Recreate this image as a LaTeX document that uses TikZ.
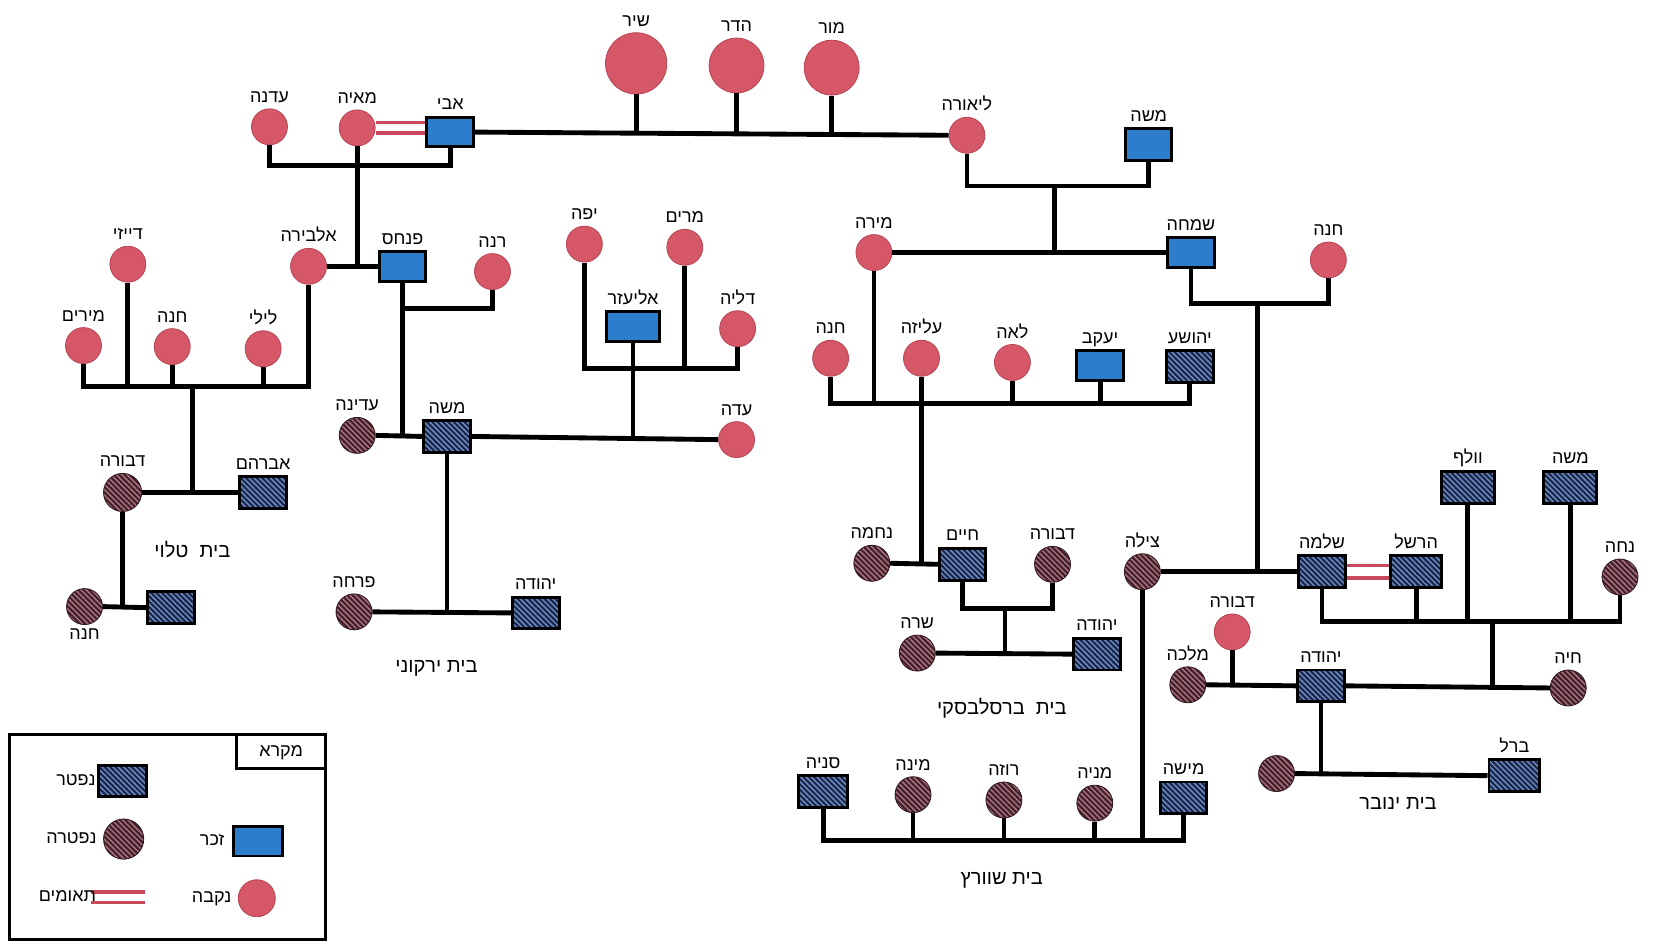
\documentclass[tikz,border=0pt]{standalone}
\usepackage{fontspec}
\TeXXeTstate=1
\newfontfamily\hebfont[Script=Hebrew]{Liberation Sans}
\usetikzlibrary{patterns.meta,calc}
\newcommand{\hb}[1]{{\hebfont\beginR #1\endR}}
\definecolor{pinkf}{RGB}{214,88,104}
\definecolor{pinkedge}{RGB}{185,70,85}
\definecolor{bluef}{RGB}{45,125,205}
\definecolor{navyf}{RGB}{28,38,70}
\definecolor{stripeb}{RGB}{110,145,205}
\definecolor{maroonf}{RGB}{62,34,42}
\definecolor{maroonedge}{RGB}{50,25,30}
\definecolor{stripep}{RGB}{180,115,132}
\definecolor{twinred}{RGB}{200,72,92}
\tikzset{
 conn/.style={line width=4.6pt, black, line join=miter},
 twin/.style={line width=3.4pt, twinred},
 fem/.style={circle, draw=pinkedge, line width=0.8pt, fill=pinkf, minimum size=34pt, inner sep=0pt},
 bigfem/.style={fem, minimum size=#1},
 male/.style={rectangle, draw=black, line width=2.8pt, fill=bluef, minimum width=44pt, minimum height=28pt, inner sep=0pt},
 mdead/.style={rectangle, draw=black, line width=2.8pt, preaction={fill=navyf}, pattern={Lines[angle=-45,distance=3.6pt,line width=1.3pt]}, pattern color=stripeb, minimum width=44pt, minimum height=30pt, inner sep=0pt},
 fdead/.style={circle, draw=maroonedge, line width=0.8pt, preaction={fill=maroonf}, pattern={Lines[angle=-45,distance=3.6pt,line width=1.3pt]}, pattern color=stripep, minimum size=34pt, inner sep=0pt},
 lab/.style={font=\fontsize{17}{19}\selectfont, text height=12pt, text depth=3.5pt, inner sep=1pt},
 nm/.style={label={[lab, label distance=1pt]above:\hb{#1}}},
 house/.style={font=\fontsize{19}{21}\selectfont, inner sep=1pt},
}
\begin{document}
\begin{tikzpicture}[x=1pt,y=-1pt]
\fill[white] (0,0) rectangle (1568,894);
\useasboundingbox (0,0) rectangle (1568,894);

% ---- top generation
\node[bigfem=58pt, nm=שיר] (shir) at (602,60) {};
\node[bigfem=52pt, nm=הדר] (hadar) at (697,62) {};
\node[bigfem=52pt, nm=מור] (mor) at (787,64) {};
\node[male, nm=אבי] (avi) at (426,125) {};
\node[fem, nm=מאיה] (maya) at (338,121) {};
\node[fem, nm=עדנה] (edna) at (255,120) {};
\node[fem, nm=ליאורה] (liora) at (915,128) {};
\node[male, nm=משה, minimum height=30pt] (moshea) at (1087,137) {};
\node[fem, nm=מירה] (mira) at (827,239) {};
\node[male, nm=שמחה] (simcha) at (1127,239) {};
\node[fem, nm=חנה] (hanar) at (1257,246) {};

% ---- left
\node[fem, nm=אלבירה] (elvira) at (292,252) {};
\node[male, nm=פנחס] (pinchas) at (381,252) {};
\node[fem, nm=רנה] (rena) at (466,257) {};
\node[fem, nm=דייזי] (daisy) at (121,250) {};
\node[fem, nm=מירים] (mirim) at (79,327) {};
\node[fem, nm=חנה] (hanal) at (163,328) {};
\node[fem, nm=לילי] (lily) at (249,330) {};
\node[fdead, nm=דבורה, minimum size=36pt] (dvoraa) at (116,466) {};
\node[mdead, nm=אברהם] (avraham) at (249,466) {};
\node[fdead, label={[lab, label distance=1pt]below:\hb{חנה}}] (hanab) at (80,574) {};
\node[mdead] (unka) at (162,575) {};

% ---- middle
\node[fdead, nm=עדינה] (adina) at (338,412) {};
\node[mdead, nm=משה] (mosheb) at (423,413) {};
\node[fem, nm=עדה] (ada) at (697,416) {};
\node[male, nm=אליעזר, minimum width=50pt] (eliezer) at (599,309) {};
\node[fem, nm=יפה] (yafa) at (553,231) {};
\node[fem, nm=מרים] (miriam) at (648,234) {};
\node[fem, nm=דליה] (dalia) at (698,311) {};
\node[fdead, nm=פרחה] (pircha) at (335,579) {};
\node[mdead, nm=יהודה] (yehudaa) at (507,580) {};

% ---- children of Mira & Simcha
\node[fem, nm=חנה] (hanac) at (786,339) {};
\node[fem, nm=עליזה] (aliza) at (872,339) {};
\node[fem, nm=לאה] (lea) at (958,343) {};
\node[male, nm=יעקב] (yaakov) at (1041,346) {};
\node[mdead, nm=יהושע] (yehoshua) at (1126,347) {};

% ---- Breslavsky
\node[fdead, nm=נחמה] (nechama) at (825,533) {};
\node[mdead, nm=חיים] (chaim) at (911,534) {};
\node[fdead, nm=דבורה] (dvorab) at (996,534) {};
\node[fdead, nm=שרה] (sara) at (868,618) {};
\node[mdead, nm=יהודה] (yehudab) at (1038,619) {};

% ---- right
\node[fdead, nm=צילה] (tzila) at (1081,541) {};
\node[mdead, nm=שלמה] (shlomo) at (1251,541) {};
\node[mdead, nm=הרשל, minimum width=48pt] (hershel) at (1340,541) {};
\node[mdead, nm=וולף, minimum width=50pt] (wolf) at (1389,461) {};
\node[mdead, nm=משה, minimum width=50pt] (moshec) at (1486,461) {};
\node[fdead, nm=נחה] (nacha) at (1533,546) {};
\node[mdead, nm=יהודה] (yehudac) at (1250,649) {};
\node[fdead, nm=חיה] (chaya) at (1484,651) {};
\node[fdead, nm=מלכה] (malka) at (1124,648) {};
\node[fem, nm=דבורה] (dvorac) at (1166,598) {};
\node[fdead] (unkb) at (1208,732) {};
\node[mdead, nm=ברל, minimum width=48pt] (berl) at (1433,734) {};

% ---- Schwartz
\node[mdead, nm=סניה, minimum width=46pt] (sonia) at (779,749) {};
\node[fdead, nm=מינה] (mina) at (864,752) {};
\node[fdead, nm=רוזה] (roza) at (950,757) {};
\node[fdead, nm=מניה] (mania) at (1036,760) {};
\node[mdead, nm=מישה] (misha) at (1120,755) {};

% ---- house names
\node[house] (htalui) at (182,520) {\hb{בית\ \ טלוי}};
\node[house] (hyarkoni) at (413,632) {\hb{בית ירקוני}};
\node[house] (hbreslav) at (948,670) {\hb{בית\ \ ברסלבסקי}};
\node[house] (hyanover) at (1323,760) {\hb{בית ינובר}};
\node[house] (hschwartz) at (948,833) {\hb{בית שוורץ}};

% ---- connectors
\draw[conn] (avi.east) -- (liora.west);
\foreach \n in {shir,hadar,mor} \draw[conn] (\n.south) -- (\n.south |- avi.east);
\draw[twin] ($(maya.east)+(0,-5)$) -- ($(maya.east -| avi.west)+(0,-5)$);
\draw[twin] ($(maya.east)+(0,5)$) -- ($(maya.east -| avi.west)+(0,5)$);
\draw[conn] (edna.south) -- (edna.south |- 0,157) -- (avi.south |- 0,157) -- (avi.south);
\draw[conn] (maya.south) -- (maya.south |- pinchas.west);
\draw[conn] (elvira.east) -- (pinchas.west);
\draw[conn] (rena.south) -- (rena.south |- 0,292) -- (pinchas.south |- 0,292);
\draw[conn] (pinchas.south) -- (pinchas.south |- mosheb.west);

\draw[conn] (mirim.south) -- (mirim.south |- 0,366) -- (elvira.south |- 0,366) -- (elvira.south);
\foreach \n in {daisy,hanal,lily} \draw[conn] (\n.south) -- (\n.south |- 0,366);
\coordinate (jl) at (182,366);
\draw[conn] (jl) -- (jl |- avraham.west);
\draw[conn] (dvoraa.east) -- (avraham.west);
\draw[conn] (dvoraa.south) -- (dvoraa.south |- unka.west);
\draw[conn] (hanab.east) -- (unka.west);

\draw[conn] (adina.east) -- (mosheb.west);
\draw[conn] (mosheb.east) -- (ada.west);
\draw[conn] (eliezer.south) -- (eliezer.south |- ada.west);
\draw[conn] (yafa.south) -- (yafa.south |- 0,349) -- (dalia.south |- 0,349) -- (dalia.south);
\draw[conn] (miriam.south) -- (miriam.south |- 0,349);
\draw[conn] (mosheb.south) -- (mosheb.south |- yehudaa.west);
\draw[conn] (pircha.east) -- (yehudaa.west);

\draw[conn] (liora.south) -- (liora.south |- 0,176) -- (moshea.south |- 0,176) -- (moshea.south);
\coordinate (jt) at (998,176);
\draw[conn] (jt) -- (jt |- mira.east);
\draw[conn] (mira.east) -- (simcha.west);
\draw[conn] (simcha.south) -- (simcha.south |- 0,287) -- (hanar.south |- 0,287) -- (hanar.south);
\coordinate (js) at (1190,287);
\draw[conn] (js) -- (js |- shlomo.west);
\draw[conn] (mira.south) -- (mira.south |- 0,382);
\draw[conn] (hanac.south) -- (hanac.south |- 0,382) -- (yehoshua.south |- 0,382) -- (yehoshua.south);
\foreach \n in {lea,yaakov} \draw[conn] (\n.south) -- (\n.south |- 0,382);
\draw[conn] (aliza.south) -- (aliza.south |- chaim.west);
\draw[conn] (nechama.east) -- (chaim.west);
\draw[conn] (chaim.south) -- (chaim.south |- 0,576) -- (dvorab.south |- 0,576) -- (dvorab.south);
\coordinate (jb) at (951,576);
\draw[conn] (jb) -- (jb |- yehudab.west);
\draw[conn] (sara.east) -- (yehudab.west);

\draw[conn] (tzila.east) -- (shlomo.west);
\draw[twin] ($(shlomo.east)+(0,-6)$) -- ($(hershel.west)+(0,-6)$);
\draw[twin] ($(shlomo.east)+(0,6)$) -- ($(hershel.west)+(0,6)$);
\draw[conn] (shlomo.south) -- (shlomo.south |- 0,588) -- (nacha.south |- 0,588) -- (nacha.south);
\foreach \n in {hershel,wolf,moshec} \draw[conn] (\n.south) -- (\n.south |- 0,588);
\coordinate (jr) at (1412,588);
\draw[conn] (jr) -- (jr |- chaya.west);
\draw[conn] (yehudac.east) -- (chaya.west);
\draw[conn] (malka.east) -- (yehudac.west);
\draw[conn] (dvorac.south) -- (dvorac.south |- malka.east);
\draw[conn] (yehudac.south) -- (yehudac.south |- berl.west);
\draw[conn] (unkb.east) -- (berl.west);
\draw[conn] (tzila.south) -- (tzila.south |- 0,795);
\draw[conn] (sonia.south) -- (sonia.south |- 0,795) -- (misha.south |- 0,795) -- (misha.south);
\foreach \n in {mina,roza,mania} \draw[conn] (\n.south) -- (\n.south |- 0,795);

% ---- legend
\draw[line width=2.4pt] (9,695) rectangle (308,889);
\draw[line width=2.4pt] (224,695) -- (224,727) -- (308,727);
\node[lab] (lgtitle) at (266,712) {\hb{מקרא}};
\node[mdead, minimum width=46pt] (lgmd) at (116,739) {};
\node[lab, anchor=east] (lgmdt) at (lgmd.west) {\hb{נפטר}};
\node[fdead, minimum size=38pt] (lgfd) at (117,794) {};
\node[lab, anchor=east] (lgfdt) at ([xshift=-5pt]lgfd.west) {\hb{נפטרה}};
\node[male, minimum width=46pt] (lgm) at (244,796) {};
\node[lab, anchor=east] (lgmt) at ([xshift=-6pt]lgm.west) {\hb{זכר}};
\node[fem, minimum size=35pt] (lgf) at (243,850) {};
\node[lab, anchor=east] (lgft) at ([xshift=-5pt]lgf.west) {\hb{נקבה}};
\coordinate (lgta) at (86,844);
\coordinate (lgtb) at (137,844);
\coordinate (lgtc) at (86,854);
\coordinate (lgtd) at (137,854);
\draw[twin] (lgta) -- (lgtb);
\draw[twin] (lgtc) -- (lgtd);
\node[lab, anchor=east] (lgtt) at (92,849) {\hb{תאומים}};
\end{tikzpicture}
\end{document}
